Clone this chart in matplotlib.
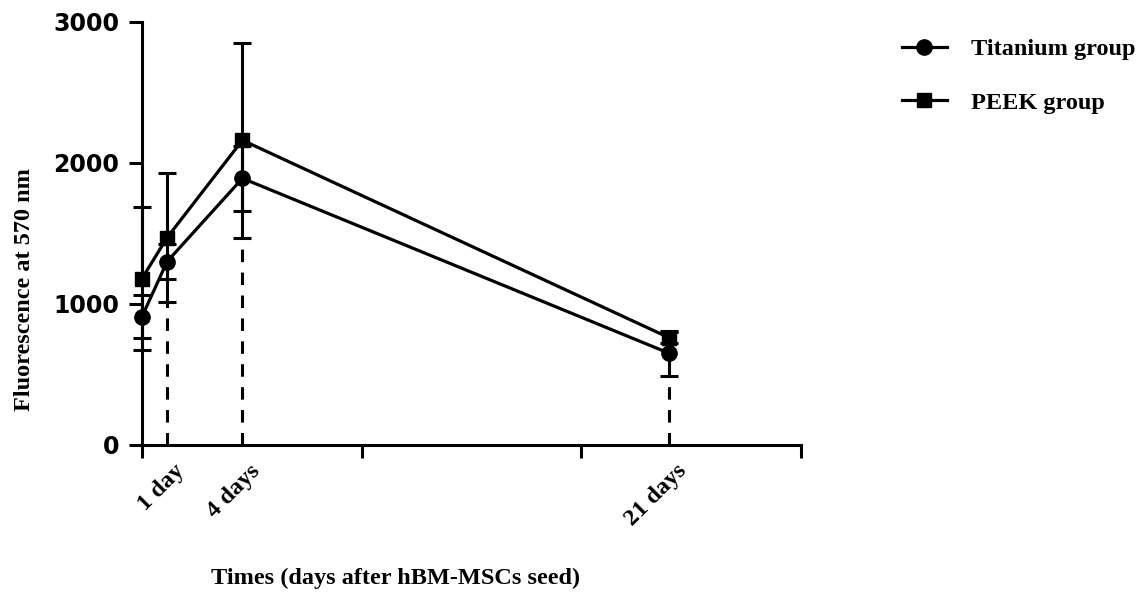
import matplotlib
matplotlib.use("Agg")
import matplotlib.pyplot as plt
from matplotlib.transforms import ScaledTranslation
import numpy as np

# ---- data ----
days = [0, 1, 4, 21]
day_labels = ["1 day", "4 days", "21 days"]
labelled_days = [1, 4, 21]

titanium_mean = [910, 1300, 1890, 650]
titanium_sd = [150, 125, 230, 160]
peek_mean = [1180, 1470, 2160, 760]
peek_sd = [510, 460, 690, 40]

series_names = ["Titanium group", "PEEK group"]

yticks = [0, 1000, 2000, 3000]
x_major = [0, 8.75, 17.5, 26.25]

plt.rcParams['lines.scale_dashes'] = False

W, H = 1147, 594
fig = plt.figure(figsize=(W / 100, H / 100), dpi=100)
ax = fig.add_axes([142 / W, 1 - 445 / H, (801 - 142) / W, (445 - 21.7) / H])

serif = {'family': 'Liberation Serif', 'weight': 'bold', 'size': 17.5}

# dashed guide lines from x-axis to the lowest error bar
for d in labelled_days:
    i = days.index(d)
    low = min(titanium_mean[i] - titanium_sd[i], peek_mean[i] - peek_sd[i])
    ax.plot([d, d], [0, low], color='black', lw=2.2, dashes=(9, 7.5),
            zorder=1, solid_capstyle='butt', dash_capstyle='butt')

handles = []
for mean, sd, mk, ms, name in [(titanium_mean, titanium_sd, 'o', 11, series_names[0]),
                               (peek_mean, peek_sd, 's', 10.5, series_names[1])]:
    eb = ax.errorbar(days, mean, yerr=sd, fmt='-' + mk, color='black', ms=ms,
                     lw=2.3, elinewidth=2.2, capsize=6.5, capthick=2.2,
                     label=name, zorder=3)
    for art in eb.get_children():
        art.set_clip_on(False)
    eb.lines[0].set_clip_on(False)
    handles.append(eb.lines[0])

ax.set_xlim(0, 26.25)
ax.set_ylim(0, 3000)

for s in ['top', 'right']:
    ax.spines[s].set_visible(False)
for s in ['left', 'bottom']:
    ax.spines[s].set_linewidth(2.2)

ax.set_yticks(yticks)
ax.set_yticklabels([str(v) for v in yticks])
ax.set_xticks(x_major)
ax.set_xticklabels([])
ax.set_xticks(labelled_days, labels=day_labels, minor=True)
ax.tick_params(axis='both', which='major', direction='out', length=9.4, width=2.2)
ax.tick_params(axis='x', which='minor', length=0, pad=11)
ax.tick_params(axis='y', which='major', pad=7)

for lbl in ax.get_yticklabels():
    lbl.set_fontfamily('DejaVu Sans')
    lbl.set_fontweight('bold')
    lbl.set_fontsize(17)

shift = ScaledTranslation(7 / 100, 0, fig.dpi_scale_trans)
for lbl in ax.get_xticklabels(minor=True):
    lbl.set_fontproperties(matplotlib.font_manager.FontProperties(**serif))
    lbl.set_rotation(45)
    lbl.set_rotation_mode('anchor')
    lbl.set_ha('right')
    lbl.set_va('top')
    lbl.set_transform(lbl.get_transform() + shift)

ax.set_xlabel("Times (days after hBM-MSCs seed)", fontdict=serif, va='center')
ax.xaxis.set_label_coords((396 - 142) / 659, (445 - 578) / 423.3)
ax.set_ylabel("Fluorescence at 570 nm", fontdict=serif, va='center')
ax.yaxis.set_label_coords((24 - 142) / 659, (445 - 290) / 423.3)

leg = fig.legend(handles=handles, labels=series_names, loc='upper left',
                 bbox_to_anchor=(902 / W, 1 - 38 / H), frameon=False,
                 prop=matplotlib.font_manager.FontProperties(**serif),
                 handlelength=1.85, handletextpad=1.0, labelspacing=1.3,
                 borderpad=0, borderaxespad=0)

fig.savefig("out.png", dpi=100)
